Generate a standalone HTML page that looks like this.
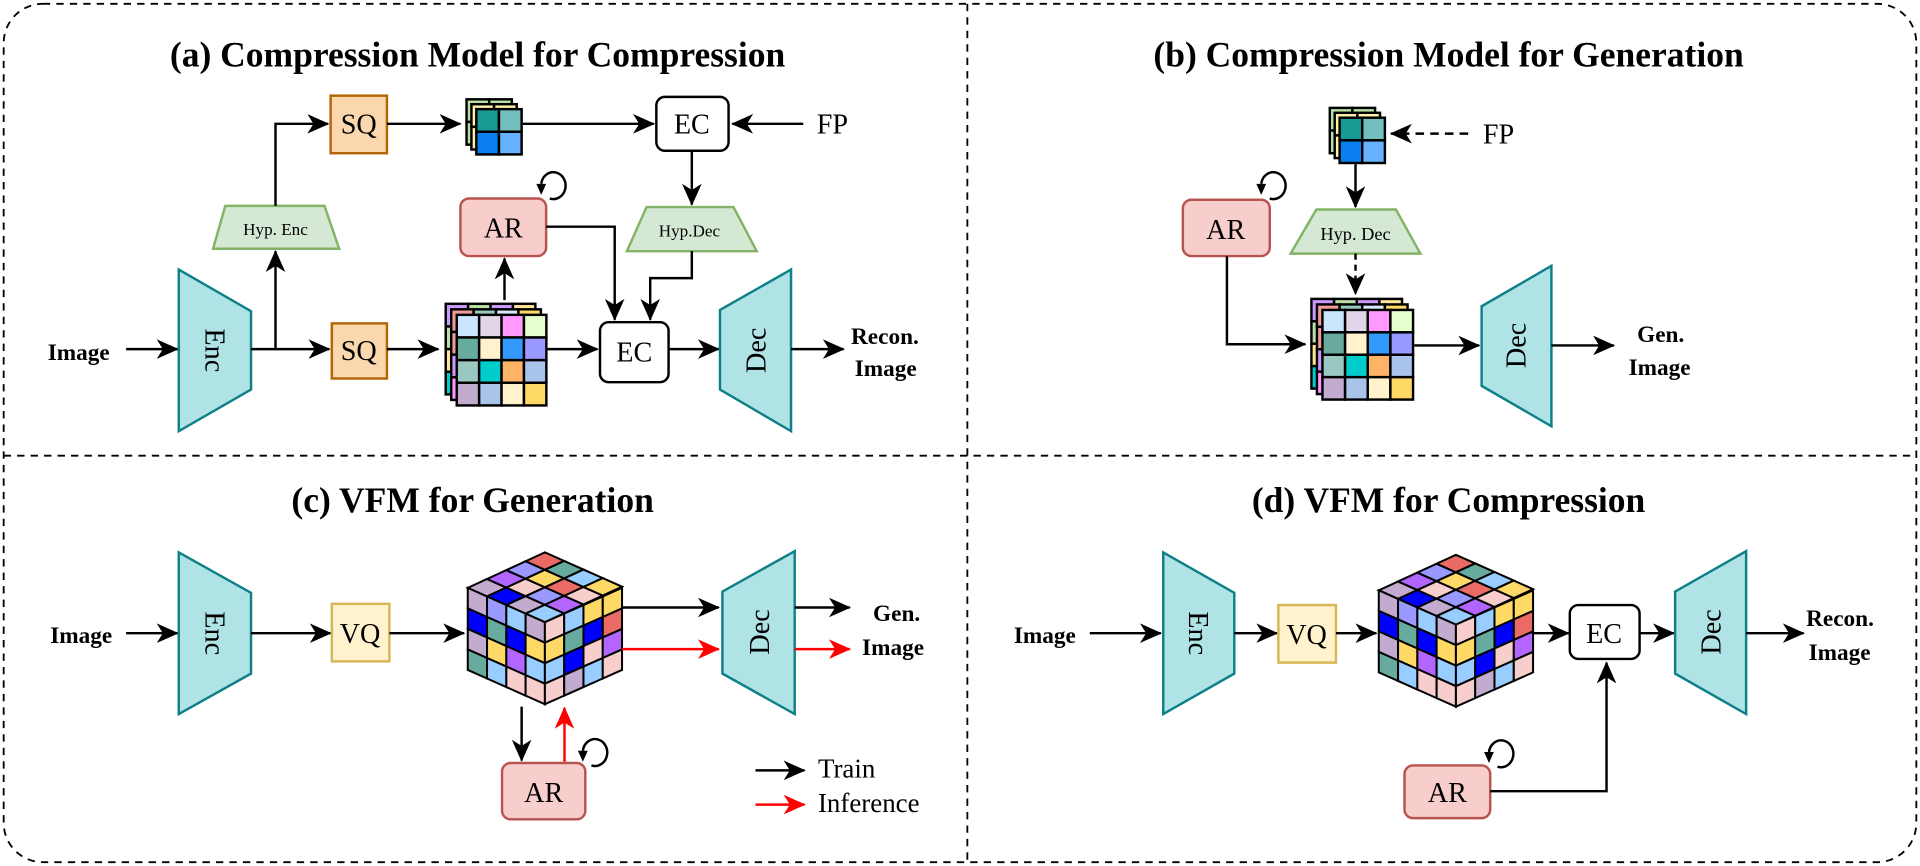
<!DOCTYPE html>
<html><head><meta charset="utf-8"><style>
html,body{margin:0;padding:0;background:#fff}
svg{display:block}
text{font-family:"Liberation Serif",serif;fill:#000}
.t{font-weight:bold;font-size:29px}
.b{font-weight:bold;font-size:19px}
.n{font-size:23px}
.s{font-size:14px}
.l{stroke:#000;stroke-width:2;fill:none}
.r{stroke:#f00;stroke-width:2;fill:none}
.cell{stroke:#000;stroke-width:2;vector-effect:non-scaling-stroke}
</style></head><body>
<svg id="sv" width="1920" height="866" viewBox="0 0 1568 707" xmlns="http://www.w3.org/2000/svg">
<defs>
<marker id="a" markerUnits="userSpaceOnUse" markerWidth="19" markerHeight="16" refX="17" refY="8" orient="auto"><path d="M0,0 L18,8 L0,16 L5,8z" fill="#000"/></marker>
<marker id="ar" markerUnits="userSpaceOnUse" markerWidth="19" markerHeight="16" refX="17" refY="8" orient="auto"><path d="M0,0 L18,8 L0,16 L5,8z" fill="#f00"/></marker>
</defs>
<rect x="3" y="3" width="1562" height="701" rx="32" fill="none" stroke="#000" stroke-width="1.5" stroke-dasharray="6,5"/>
<line x1="790" y1="3" x2="790" y2="704" stroke="#000" stroke-width="1.5" stroke-dasharray="6,5"/>
<line x1="3" y1="372" x2="1565" y2="372" stroke="#000" stroke-width="1.5" stroke-dasharray="6,5"/>

<text class="t" x="390" y="54" text-anchor="middle">(a) Compression Model for Compression</text>
<text class="t" x="1183" y="54" text-anchor="middle">(b) Compression Model for Generation</text>
<text class="t" x="386" y="418" text-anchor="middle">(c) VFM for Generation</text>
<text class="t" x="1183" y="418" text-anchor="middle">(d) VFM for Compression</text>

<g id="dyn"></g>

<!-- ===== (a) ===== -->
<text class="b" x="39" y="294">Image</text>
<line class="l" x1="103" y1="285" x2="145" y2="285" marker-end="url(#a)"/>
<path d="M146,220 L205,254 L205,318 L146,352z" fill="#b0e3e6" stroke="#0e8088" stroke-width="2"/>
<text class="n" transform="translate(168,286) rotate(90)" text-anchor="middle">Enc</text>
<line class="l" x1="205" y1="285" x2="269" y2="285" marker-end="url(#a)"/>
<line class="l" x1="225" y1="285" x2="225" y2="205" marker-end="url(#a)"/>
<path d="M184,168 L265,168 L277,203 L174,203z" fill="#d5e8d4" stroke="#82b366" stroke-width="2"/>
<text class="s" x="225" y="192" text-anchor="middle">Hyp. Enc</text>
<path class="l" d="M225,168 L225,101 L268,101" marker-end="url(#a)"/>
<rect x="270" y="78" width="46" height="47" fill="#fad7ac" stroke="#b46504" stroke-width="2"/>
<text class="n" x="293" y="109" text-anchor="middle">SQ</text>
<line class="l" x1="316" y1="101" x2="376" y2="101" marker-end="url(#a)"/>
<line class="l" x1="427" y1="101" x2="534" y2="101" marker-end="url(#a)"/>
<rect x="536" y="79" width="59" height="44" rx="7" fill="#fff" stroke="#000" stroke-width="2"/>
<text class="n" x="565" y="109" text-anchor="middle">EC</text>
<line class="l" x1="656" y1="101" x2="598" y2="101" marker-end="url(#a)"/>
<text class="n" x="667" y="109">FP</text>
<line class="l" x1="565" y1="123" x2="565" y2="167" marker-end="url(#a)"/>
<path d="M528,169 L599,169 L618,205 L512,205z" fill="#d5e8d4" stroke="#82b366" stroke-width="2"/>
<text class="s" x="563" y="193" text-anchor="middle">Hyp.Dec</text>
<path class="l" d="M565,205 L565,227 L531,227 L531,261" marker-end="url(#a)"/>
<rect x="271" y="264" width="45" height="45" fill="#fad7ac" stroke="#b46504" stroke-width="2"/>
<text class="n" x="293" y="294" text-anchor="middle">SQ</text>
<line class="l" x1="316" y1="285" x2="358" y2="285" marker-end="url(#a)"/>
<rect x="376" y="162" width="70" height="47" rx="7" fill="#f8cecc" stroke="#b85450" stroke-width="2"/>
<text class="n" x="411" y="194" text-anchor="middle">AR</text>
<path class="l" d="M442,150 A10,11 0 1 1 449,162"/>
<path d="M438,150 L446,150 L442,159z" fill="#000"/>
<line class="l" x1="412" y1="245" x2="412" y2="211" marker-end="url(#a)"/>
<path class="l" d="M446,185 L502,185 L502,261" marker-end="url(#a)"/>
<line class="l" x1="446" y1="285" x2="488" y2="285" marker-end="url(#a)"/>
<rect x="490" y="263" width="56" height="49" rx="7" fill="#fff" stroke="#000" stroke-width="2"/>
<text class="n" x="518" y="295" text-anchor="middle">EC</text>
<line class="l" x1="546" y1="285" x2="587" y2="285" marker-end="url(#a)"/>
<path d="M646,220 L588,253 L588,318 L646,352z" fill="#b0e3e6" stroke="#0e8088" stroke-width="2"/>
<text class="n" transform="translate(625,286) rotate(-90)" text-anchor="middle">Dec</text>
<line class="l" x1="646" y1="285" x2="689" y2="285" marker-end="url(#a)"/>
<text class="b" x="695" y="281">Recon.</text>
<text class="b" x="698" y="307">Image</text>

<!-- ===== (b) ===== -->
<line x1="1199" y1="109" x2="1136" y2="109" stroke="#000" stroke-width="2" stroke-dasharray="7,5" marker-end="url(#a)"/>
<text class="n" x="1211" y="117">FP</text>
<line class="l" x1="1107" y1="134" x2="1107" y2="169" marker-end="url(#a)"/>
<path d="M1075,171 L1140,171 L1160,207 L1054,207z" fill="#d5e8d4" stroke="#82b366" stroke-width="2"/>
<text class="s" x="1107" y="196" text-anchor="middle" style="font-size:15px">Hyp. Dec</text>
<line x1="1107" y1="207" x2="1107" y2="240" stroke="#000" stroke-width="2" stroke-dasharray="5,4" marker-end="url(#a)"/>
<rect x="966" y="163" width="71" height="46" rx="7" fill="#f8cecc" stroke="#b85450" stroke-width="2"/>
<text class="n" x="1001" y="195" text-anchor="middle">AR</text>
<path class="l" d="M1030,150 A10,11 0 1 1 1037,162"/>
<path d="M1026,150 L1034,150 L1030,159z" fill="#000"/>
<path class="l" d="M1002,209 L1002,281 L1066,281" marker-end="url(#a)"/>
<line class="l" x1="1155" y1="282" x2="1208" y2="282" marker-end="url(#a)"/>
<path d="M1267,217 L1210,250 L1210,315 L1267,348z" fill="#b0e3e6" stroke="#0e8088" stroke-width="2"/>
<text class="n" transform="translate(1246,282) rotate(-90)" text-anchor="middle">Dec</text>
<line class="l" x1="1267" y1="282" x2="1318" y2="282" marker-end="url(#a)"/>
<text class="b" x="1337" y="279">Gen.</text>
<text class="b" x="1330" y="306">Image</text>

<!-- ===== (c) ===== -->
<text class="b" x="41" y="525">Image</text>
<line class="l" x1="103" y1="517" x2="145" y2="517" marker-end="url(#a)"/>
<path d="M146,451 L205,484 L205,550 L146,583z" fill="#b0e3e6" stroke="#0e8088" stroke-width="2"/>
<text class="n" transform="translate(168,517) rotate(90)" text-anchor="middle">Enc</text>
<line class="l" x1="205" y1="517" x2="270" y2="517" marker-end="url(#a)"/>
<rect x="271" y="493" width="47" height="47" fill="#fff2cc" stroke="#d6b656" stroke-width="2"/>
<text class="n" x="294" y="525" text-anchor="middle">VQ</text>
<line class="l" x1="318" y1="517" x2="379" y2="517" marker-end="url(#a)"/>
<line class="l" x1="508" y1="496" x2="587" y2="496" marker-end="url(#a)"/>
<line class="r" x1="508" y1="530" x2="587" y2="530" marker-end="url(#ar)"/>
<path d="M649,450 L590,483 L590,550 L649,583z" fill="#b0e3e6" stroke="#0e8088" stroke-width="2"/>
<text class="n" transform="translate(628,516) rotate(-90)" text-anchor="middle">Dec</text>
<line class="l" x1="649" y1="496" x2="694" y2="496" marker-end="url(#a)"/>
<line class="r" x1="649" y1="530" x2="694" y2="530" marker-end="url(#ar)"/>
<text class="b" x="713" y="507">Gen.</text>
<text class="b" x="704" y="535">Image</text>
<line class="l" x1="426" y1="577" x2="426" y2="621" marker-end="url(#a)"/>
<line class="r" x1="461" y1="622" x2="461" y2="578" marker-end="url(#ar)"/>
<rect x="410" y="623" width="68" height="46" rx="7" fill="#f8cecc" stroke="#b85450" stroke-width="2"/>
<text class="n" x="444" y="655" text-anchor="middle">AR</text>
<path class="l" d="M476,613 A10,11 0 1 1 483,625"/>
<path d="M472,613 L480,613 L476,622z" fill="#000"/>
<line class="l" x1="617" y1="629" x2="657" y2="629" marker-end="url(#a)"/>
<line class="r" x1="617" y1="657" x2="657" y2="657" marker-end="url(#ar)"/>
<text class="n" x="668" y="635" style="font-size:22px">Train</text>
<text class="n" x="668" y="663" style="font-size:22px">Inference</text>

<!-- ===== (d) ===== -->
<text class="b" x="828" y="525">Image</text>
<line class="l" x1="890" y1="517" x2="948" y2="517" marker-end="url(#a)"/>
<path d="M950,451 L1008,484 L1008,550 L950,583z" fill="#b0e3e6" stroke="#0e8088" stroke-width="2"/>
<text class="n" transform="translate(971,517) rotate(90)" text-anchor="middle">Enc</text>
<line class="l" x1="1008" y1="517" x2="1043" y2="517" marker-end="url(#a)"/>
<rect x="1044" y="494" width="47" height="47" fill="#fff2cc" stroke="#d6b656" stroke-width="2"/>
<text class="n" x="1067" y="526" text-anchor="middle">VQ</text>
<line class="l" x1="1091" y1="517" x2="1124" y2="517" marker-end="url(#a)"/>
<line class="l" x1="1251" y1="517" x2="1281" y2="517" marker-end="url(#a)"/>
<rect x="1282" y="494" width="57" height="44" rx="7" fill="#fff" stroke="#000" stroke-width="2"/>
<text class="n" x="1310" y="525" text-anchor="middle">EC</text>
<line class="l" x1="1339" y1="517" x2="1367" y2="517" marker-end="url(#a)"/>
<path d="M1426,450 L1368,483 L1368,550 L1426,583z" fill="#b0e3e6" stroke="#0e8088" stroke-width="2"/>
<text class="n" transform="translate(1405,516) rotate(-90)" text-anchor="middle">Dec</text>
<line class="l" x1="1426" y1="517" x2="1473" y2="517" marker-end="url(#a)"/>
<text class="b" x="1475" y="511">Recon.</text>
<text class="b" x="1477" y="539">Image</text>
<rect x="1147" y="625" width="70" height="43" rx="7" fill="#f8cecc" stroke="#b85450" stroke-width="2"/>
<text class="n" x="1182" y="655" text-anchor="middle">AR</text>
<path class="l" d="M1216,614 A10,11 0 1 1 1223,626"/>
<path d="M1212,614 L1220,614 L1216,623z" fill="#000"/>
<path class="l" d="M1217,646 L1312,646 L1312,541" marker-end="url(#a)"/>
</svg>
<script>
(function(){
var NS="http://www.w3.org/2000/svg",g=document.getElementById("dyn");
function el(t,a,p){var e=document.createElementNS(NS,t);for(var k in a)e.setAttribute(k,a[k]);(p||g).appendChild(e);return e;}
function grid(x,y,n,cw,ch,cols){for(var r=0;r<n;r++)for(var c=0;c<n;c++)el("rect",{x:x+c*cw,y:y+r*ch,width:cw,height:ch,fill:cols[r*n+c],stroke:"#000","stroke-width":2});}
var big=["#cce5ff","#e1d5e7","#ff99ff","#e6ffcc","#67ab9f","#fff2cc","#3399ff","#9999ff","#9ac7bf","#00cccc","#ffb366","#a9c4eb","#c3abd0","#a9c4eb","#fff2cc","#ffd966"];
var bk1=["#cc99ff","#b9e0a5","#cc99ff","#ffe599","#b9e0a5","#b9e0a5","#b9e0a5","#b9e0a5","#ffe599","#ffe599","#ffe599","#ffe599","#00cccc","#00cccc","#00cccc","#00cccc"];
var bk2=["#f19c99","#9ac7bf","#dae8fc","#ffd966","#f19c99","#f19c99","#f19c99","#f19c99","#cc99ff","#cc99ff","#cc99ff","#cc99ff","#ff99ff","#ff99ff","#ff99ff","#ff99ff"];
function bigG(x,y,cw,ch){grid(x-9,y-9,4,cw,ch,bk1);grid(x-4.5,y-4.5,4,cw,ch,bk2);grid(x,y,4,cw,ch,big);}
bigG(373,257,18.3,18.5);bigG(1080,253,18.5,18.3);
var sm=["#1a9a94","#73bfbf","#0a7ff0","#66b2ff"];
function smG(x,y,s){grid(x-8,y-8,2,s,s,["#b9e0a5","#b9e0a5","#b9e0a5","#b9e0a5"]);grid(x-4,y-4,2,s,s,["#fff2a8","#fff2a8","#fff2a8","#fff2a8"]);grid(x,y,2,s,s,sm);}
smG(389,89,18.5);smG(1094,96,18.5);
var P=["#c3abd0","#9999ff","#99ccff","#f8cecc","#ea6b66","#67ab9f","#ffd966","#b266ff","#0000ff"];
var top=[0,7,1,4, 8,3,6,5, 0,1,4,2, 2,7,3,6];
var lf=[0,1,2,0, 8,5,8,6, 0,6,7,2, 5,2,3,3];
var rt=[3,2,6,6, 6,5,8,4, 2,8,3,7, 3,0,2,3];
function face(ox,oy,ux,uy,vx,vy,cols){var gg=el("g",{transform:"matrix("+ux/4+","+uy/4+","+vx/4+","+vy/4+","+ox+","+oy+")"});for(var r=0;r<4;r++)for(var c=0;c<4;c++)el("rect",{x:c,y:r,width:1,height:1,fill:P[cols[r*4+c]],"class":"cell"},gg);}
function cube(dx,dy){face(382+dx,480+dy,63,-29,63,28,top);face(382+dx,480+dy,63,28,0,67,lf);face(445+dx,508+dy,63,-28,0,67,rt);}
cube(0,0);cube(744,2);
})();
</script>
</body></html>
